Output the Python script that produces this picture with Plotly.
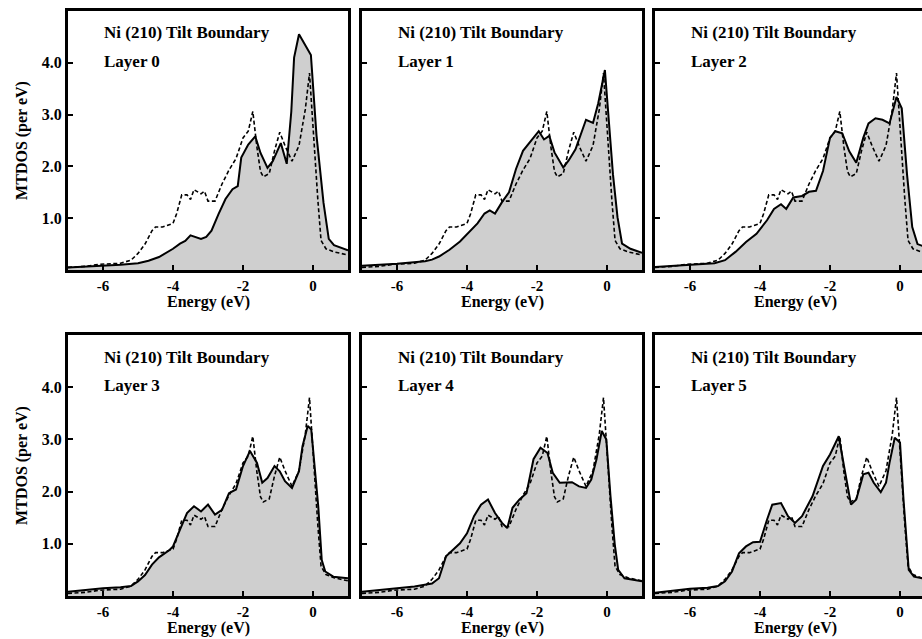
import plotly.graph_objects as go

# ---------------- data ----------------
energy_bulk = [-7.0, -6.5, -6.1, -5.5, -5.2, -5.0, -4.8, -4.6, -4.5, -4.3, -4.0, -3.9, -3.75, -3.6,
               -3.5, -3.4, -3.2, -3.1, -3.0, -2.8, -2.6, -2.4, -2.2, -2.0, -1.85, -1.72, -1.6, -1.5,
               -1.42, -1.25, -1.1, -0.95, -0.8, -0.6, -0.4, -0.22, -0.1, 0.03, 0.14, 0.23, 0.37, 0.6, 1.0]
dos_bulk = [0.05, 0.07, 0.11, 0.13, 0.19, 0.32, 0.5, 0.76, 0.83, 0.83, 0.9, 1.08, 1.45, 1.45,
            1.36, 1.55, 1.47, 1.52, 1.33, 1.33, 1.66, 1.93, 2.15, 2.55, 2.68, 3.06, 2.36, 1.9,
            1.8, 1.86, 2.3, 2.66, 2.4, 2.1, 2.4, 3.1, 3.8, 2.4, 1.34, 0.57, 0.41, 0.35, 0.29]

energy_l0 = [-7.0, -6.0, -5.5, -5.0, -4.7, -4.4, -4.0, -3.8, -3.65, -3.5, -3.4, -3.2, -3.05, -2.9,
             -2.7, -2.5, -2.3, -2.15, -2.05, -1.85, -1.65, -1.5, -1.3, -1.15, -0.92, -0.75, -0.62,
             -0.54, -0.4, -0.06, 0.1, 0.3, 0.45, 0.6, 1.0]
dos_l0 = [0.05, 0.08, 0.1, 0.13, 0.18, 0.25, 0.41, 0.51, 0.56, 0.67, 0.65, 0.6, 0.64, 0.76,
          1.08, 1.37, 1.56, 1.62, 2.17, 2.42, 2.58, 2.26, 1.97, 2.1, 2.45, 2.05, 3.06,
          4.1, 4.55, 4.15, 2.6, 1.3, 0.6, 0.48, 0.38]

energy_l1 = [-7.0, -6.0, -5.2, -5.0, -4.8, -4.5, -4.2, -3.9, -3.7, -3.5, -3.35, -3.2, -3.0, -2.8,
             -2.6, -2.4, -2.2, -1.95, -1.8, -1.65, -1.5, -1.25, -1.1, -0.9, -0.6, -0.4, -0.25,
             -0.06, 0.17, 0.3, 0.43, 0.67, 1.0]
dos_l1 = [0.08, 0.12, 0.17, 0.2, 0.26, 0.39, 0.55, 0.77, 0.9, 1.09, 1.15, 1.09, 1.31, 1.5,
          1.95, 2.3, 2.46, 2.68, 2.52, 2.59, 2.27, 1.98, 2.11, 2.33, 2.9, 2.84, 3.22,
          3.86, 1.85, 1.02, 0.51, 0.41, 0.33]

energy_l2 = [-7.0, -6.0, -5.3, -5.0, -4.7, -4.4, -4.1, -3.8, -3.6, -3.4, -3.25, -3.05, -2.8, -2.6,
             -2.4, -2.2, -2.0, -1.85, -1.65, -1.45, -1.25, -1.05, -0.9, -0.7, -0.5, -0.3, -0.1,
             0.05, 0.2, 0.35, 0.5, 1.0]
dos_l2 = [0.06, 0.1, 0.13, 0.19, 0.35, 0.54, 0.7, 0.96, 1.18, 1.27, 1.18, 1.4, 1.43, 1.51,
          1.53, 1.91, 2.55, 2.68, 2.64, 2.29, 2.07, 2.55, 2.83, 2.93, 2.9, 2.83, 3.34,
          3.12, 1.85, 0.83, 0.5, 0.38]

energy_l3 = [-7.0, -6.0, -5.5, -5.2, -5.0, -4.8, -4.6, -4.4, -4.1, -4.0, -3.8, -3.6, -3.4, -3.2,
             -3.0, -2.8, -2.6, -2.4, -2.2, -2.0, -1.8, -1.6, -1.45, -1.3, -1.1, -0.95, -0.8,
             -0.6, -0.4, -0.3, -0.15, -0.05, 0.15, 0.25, 0.35, 0.58, 1.0]
dos_l3 = [0.08, 0.15, 0.17, 0.19, 0.28, 0.4, 0.6, 0.74, 0.88, 0.95, 1.27, 1.59, 1.72, 1.62,
          1.75, 1.56, 1.65, 1.97, 2.04, 2.49, 2.78, 2.55, 2.17, 2.26, 2.49, 2.39, 2.2,
          2.07, 2.39, 2.87, 3.26, 3.19, 1.72, 0.69, 0.47, 0.37, 0.34]

energy_l4 = [-7.0, -6.0, -5.5, -5.0, -4.8, -4.6, -4.4, -4.2, -4.0, -3.8, -3.6, -3.4, -3.2, -3.0,
             -2.85, -2.7, -2.5, -2.3, -2.1, -1.9, -1.7, -1.55, -1.35, -1.2, -1.0, -0.8, -0.6,
             -0.45, -0.3, -0.15, -0.02, 0.1, 0.22, 0.32, 0.5, 1.0]
dos_l4 = [0.08, 0.15, 0.18, 0.24, 0.34, 0.76, 0.88, 1.01, 1.2, 1.53, 1.75, 1.85, 1.59, 1.4,
          1.3, 1.69, 1.85, 1.97, 2.62, 2.84, 2.74, 2.36, 2.17, 2.17, 2.18, 2.1, 2.07,
          2.23, 2.62, 3.16, 3.0, 1.91, 1.0, 0.5, 0.34, 0.28]

energy_l5 = [-7.0, -6.0, -5.5, -5.2, -5.0, -4.8, -4.6, -4.4, -4.2, -4.0, -3.8, -3.65, -3.4, -3.2,
             -3.0, -2.8, -2.5, -2.2, -2.0, -1.75, -1.6, -1.4, -1.25, -1.05, -0.9, -0.75, -0.55,
             -0.4, -0.3, -0.15, 0.0, 0.1, 0.25, 0.4, 0.7, 1.0]
dos_l5 = [0.06, 0.14, 0.16, 0.19, 0.28, 0.47, 0.82, 0.95, 1.03, 1.04, 1.46, 1.75, 1.78, 1.53,
          1.4, 1.53, 1.91, 2.49, 2.71, 3.06, 2.49, 1.75, 1.85, 2.33, 2.36, 2.17, 1.99,
          2.17, 2.55, 3.03, 2.94, 1.85, 0.5, 0.37, 0.33, 0.3]

panel_titles = ["Layer 0", "Layer 1", "Layer 2", "Layer 3", "Layer 4", "Layer 5"]
boundary_label = "Ni (210) Tilt Boundary"
x_tick_vals = [-6, -4, -2, 0]
x_tick_text = ["-6", "-4", "-2", "0"]
y_tick_vals = [1, 2, 3, 4]
y_tick_text = ["1.0", "2.0", "3.0", "4.0"]
x_title = "Energy (eV)"
y_title = "MTDOS (per eV)"

layer_energy = [energy_l0, energy_l1, energy_l2, energy_l3, energy_l4, energy_l5]
layer_dos = [dos_l0, dos_l1, dos_l2, dos_l3, dos_l4, dos_l5]

# ---------------- layout geometry (pixels) ----------------
W, H = 922, 639
col_left = [68, 362, 655]
panel_w = 280
row_top = [11, 335]
row_bot = [270, 596]
ev_per_px = 8.0 / panel_w

FONT = "Liberation Serif"

fig = go.Figure()
layout = dict(
    width=W, height=H,
    margin=dict(l=0, r=0, t=0, b=0),
    paper_bgcolor="white", plot_bgcolor="white",
    showlegend=False,
    font=dict(family=FONT, size=16, color="black"),
)

annotations = []
for i in range(6):
    r, c = divmod(i, 3)
    xa = "xaxis" if i == 0 else f"xaxis{i+1}"
    ya = "yaxis" if i == 0 else f"yaxis{i+1}"
    xref = "x" if i == 0 else f"x{i+1}"
    yref = "y" if i == 0 else f"y{i+1}"
    left = col_left[c]
    right = left + panel_w
    x1 = min(right, W)
    xmax = -7.0 + (x1 - left) * ev_per_px
    dom_x = [left / W, x1 / W]
    dom_y = [1 - row_bot[r] / H, 1 - row_top[r] / H]

    fig.add_trace(go.Scatter(
        x=layer_energy[i], y=layer_dos[i], mode="lines",
        line=dict(color="black", width=2),
        fill="tozeroy",
        fillcolor="#cfcfcf",
        xaxis=xref, yaxis=yref, hoverinfo="skip"))
    fig.add_trace(go.Scatter(
        x=energy_bulk, y=dos_bulk, mode="lines",
        line=dict(color="black", width=1.6, dash="4px,2.5px"),
        xaxis=xref, yaxis=yref, hoverinfo="skip"))

    layout[xa] = dict(
        domain=dom_x, range=[-7.0, xmax], anchor=yref, automargin=False,
        showgrid=False, zeroline=False,
        showline=True, linecolor="black", linewidth=3, mirror=True,
        ticks="inside", ticklen=5, tickwidth=1.5, tickcolor="black",
        tickvals=x_tick_vals, ticktext=x_tick_text,
        tickfont=dict(family=FONT, size=15, color="black", weight="bold"),
    )
    layout[ya] = dict(
        domain=dom_y, range=[0, 5], anchor=xref, automargin=False,
        showgrid=False, zeroline=False,
        showline=True, linecolor="black", linewidth=3, mirror=(c < 2),
        ticks="inside", ticklen=5, tickwidth=1.5, tickcolor="black",
        tickvals=y_tick_vals, ticktext=y_tick_text,
        showticklabels=(c == 0),
        tickfont=dict(family=FONT, size=16, color="black", weight="bold"),
        title=dict(text=y_title if c == 0 else "", standoff=11,
                   font=dict(family=FONT, size=16, color="black", weight="bold")),
    )

    # x-axis title, centred under the full panel width
    annotations.append(dict(
        x=(left + panel_w / 2) / W, y=1 - (row_bot[r] + 32) / H,
        xref="paper", yref="paper", text=x_title, showarrow=False,
        xanchor="center", yanchor="middle",
        font=dict(family=FONT, size=16, color="black", weight="bold")))

    tx = (left + 34) / W
    annotations.append(dict(
        x=tx, y=1 - (row_top[r] + 22) / H, xref="paper", yref="paper",
        text=boundary_label, showarrow=False, xanchor="left", yanchor="middle",
        font=dict(family=FONT, size=17, color="black", weight="bold")))
    annotations.append(dict(
        x=tx, y=1 - (row_top[r] + 50) / H, xref="paper", yref="paper",
        text=panel_titles[i], showarrow=False, xanchor="left", yanchor="middle",
        font=dict(family=FONT, size=17, color="black", weight="bold")))

layout["annotations"] = annotations
fig.update_layout(**layout)
fig.write_html(
    "out.html",
    config={"displayModeBar": False},
    post_script="document.body.style.margin='0';document.body.style.overflow='hidden';",
)
